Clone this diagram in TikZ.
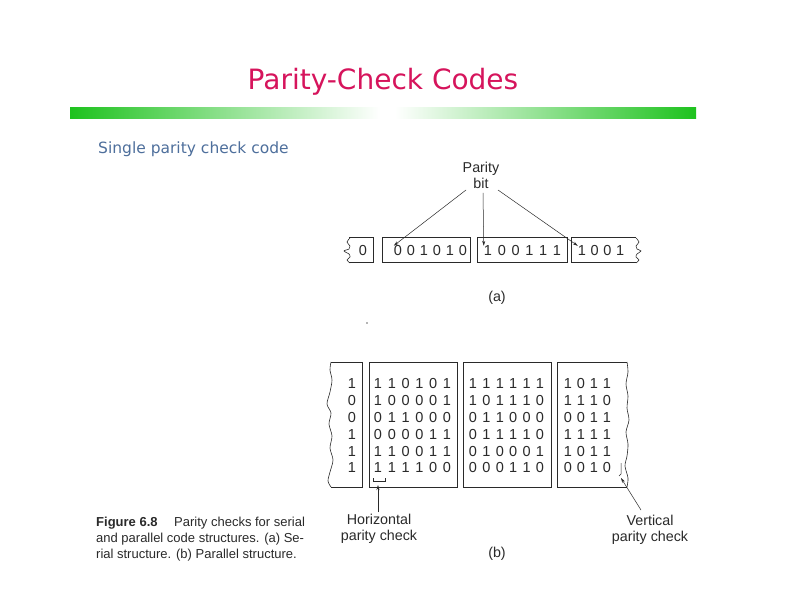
\documentclass[tikz,border=0pt]{standalone}
\usepackage{fontspec}
\setmainfont{Liberation Sans}
\newfontfamily\titlefont{DejaVu Sans}
\usetikzlibrary{arrows.meta}
\definecolor{titlecol}{HTML}{D6145C}
\definecolor{subcol}{HTML}{4E6F9C}
\definecolor{barcol}{HTML}{1EC21E}
\definecolor{ink}{HTML}{2A2A2A}
\begin{document}
\begin{tikzpicture}[x=1pt,y=-1pt,
  figline/.style={draw=ink, line width=1pt},
  boxnode/.style={draw=ink, line width=1pt, inner sep=0pt, fill=none},
  arr/.style={draw=ink, line width=0.5pt, -{Stealth[length=5pt,width=3pt]}},
  digit/.style={font=\fontsize{14.5}{14.5}\selectfont, text=ink, inner sep=0pt},
  lbl/.style={font=\fontsize{14.3}{16}\selectfont, text=ink, inner sep=0pt, align=center},
]
\useasboundingbox (0,0) rectangle (792,612);
\fill[white] (0,0) rectangle (792,612);

% title and bar
\node[font=\titlefont\fontsize{28}{32}\selectfont, text=titlecol] (title) at (383,82) {Parity-Check Codes};
\shade[left color=barcol, right color=white] (70,108) rectangle (380,119);
\shade[left color=white, right color=barcol] (395,108) rectangle (696,119);
\node[font=\titlefont\fontsize{15.5}{18}\selectfont, text=subcol, anchor=west, inner sep=0pt] (sub) at (98,149) {Single parity check code};

% ---------- (a) serial structure ----------
\node[lbl] (pb) at (481,175) {Parity\\bit};
% left partial box
\draw[figline] (349,238) -- (373,238) -- (373,263) -- (349,263);
\draw[ink, line width=0.6pt] plot[smooth] coordinates {(350,238) (347,242) (350,246) (349,249) (344,251) (349,254) (350,257) (347,260) (350,263)};
\node[digit] (a0) at (363,251) {0};
% box 1
\node[boxnode, minimum width=88pt, minimum height=25pt] (A1) at (426,250.5) {};
\foreach \d [count=\c from 0] in {0,0,1,0,1,0}
  \node[digit] (a1-\c) at ({398+13*\c},251) {\d};
% box 2
\node[boxnode, minimum width=90pt, minimum height=25pt] (A2) at (522,250.5) {};
\foreach \d [count=\c from 0] in {1,0,0,1,1,1}
  \node[digit] (a2-\c) at ({488+13.8*\c},251) {\d};
% right partial box
\draw[figline] (636,238) -- (571,238) -- (571,263) -- (636,263);
\draw[ink, line width=0.6pt] plot[smooth] coordinates {(636,238) (639,242) (636,246) (637,249) (641,251) (637,254) (636,257) (639,260) (636,263)};
\foreach \d [count=\c from 0] in {1,0,0,1}
  \node[digit] (a3-\c) at ({582+12.7*\c},251) {\d};
% arrows from label
\coordinate (pbl) at (466,190);
\coordinate (pbm) at (483,193);
\coordinate (pbr) at (498,190);
\draw[arr] (pbl) -- (a1-0.north west);
\draw[arr] (pbm) -- (a2-0.north west);
\draw[arr] (pbr) -- (a3-0.north west);
\node[lbl] (la) at (497,298) {(a)};
\fill[ink!70] (367,323) circle (0.8);

% ---------- (b) parallel structure ----------
% left partial box
\draw[figline] (331,362) -- (362,362) -- (362,487) -- (331,487);
\draw[ink, line width=0.6pt] plot[smooth] coordinates {(331,362) (330,370) (332,380) (330,392) (327,404) (331,413) (329,424) (332,436) (330,448) (333,460) (330,472) (328,481) (331,487)};
\foreach \d [count=\r from 0] in {1,0,0,1,1,1}
  \node[digit] (b0-\r) at (352,{384+16.8*\r}) {\d};
% box 1
\node[boxnode, minimum width=88pt, minimum height=125pt] (B1) at (413,424.5) {};
\foreach \a/\b/\c/\d/\e/\f [count=\r from 0] in {1/1/0/1/0/1,1/0/0/0/0/1,0/1/1/0/0/0,0/0/0/0/1/1,1/1/0/0/1/1,1/1/1/1/0/0}{
  \foreach \v [count=\k from 0] in {\a,\b,\c,\d,\e,\f}
    \node[digit] (b1-\r-\k) at ({378+13.8*\k},{384+16.8*\r}) {\v};
}
% box 2
\node[boxnode, minimum width=88pt, minimum height=125pt] (B2) at (507,424.5) {};
\foreach \a/\b/\c/\d/\e/\f [count=\r from 0] in {1/1/1/1/1/1,1/0/1/1/1/0,0/1/1/0/0/0,0/1/1/1/1/0,0/1/0/0/0/1,0/0/0/1/1/0}{
  \foreach \v [count=\k from 0] in {\a,\b,\c,\d,\e,\f}
    \node[digit] (b2-\r-\k) at ({473+13.4*\k},{384+16.8*\r}) {\v};
}
% right partial box
\draw[figline] (627,362) -- (557,362) -- (557,487) -- (627,487);
\draw[ink, line width=0.6pt] plot[smooth] coordinates {(627,362) (628,372) (626,384) (628,396) (627,408) (629,420) (626,432) (628,444) (627,456) (625,466) (628,478) (627,487)};
\foreach \a/\b/\c/\d [count=\r from 0] in {1/0/1/1,1/1/1/0,0/0/1/1,1/1/1/1,1/0/1/1,0/0/1/0}{
  \foreach \v [count=\k from 0] in {\a,\b,\c,\d}
    \node[digit] (b3-\r-\k) at ({568+13*\k},{384+16.8*\r}) {\v};
}
% horizontal parity bracket
\draw[ink, line width=0.5pt] (373,478) -- (373,481) -- (385,481) -- (385,478);
\coordinate (hb) at (378,485);
\node[lbl] (hl) at (379,529) {Horizontal\\parity check};
\draw[arr] (hl.north -| hb) ++(0,-2) -- (hb);
% vertical parity bracket
\draw[ink, line width=0.5pt] (621,463) -- (621,474) -- (619,476);
\coordinate (vb) at (621,478);
\node[lbl] (vl) at (650,530) {Vertical\\parity check};
\coordinate (vs) at (641,510);
\draw[arr] (vs) -- (vb);
\node[lbl] (lb) at (497,554) {(b)};

% caption
\node[anchor=north west, align=left, inner sep=0pt, text=ink, font=\fontsize{13}{16}\selectfont] (cap) at (96,516.5)
  {\textbf{Figure 6.8}\quad\ Parity checks for serial\\and parallel code structures. (a) Se-\\rial structure. (b) Parallel structure.};
\end{tikzpicture}
\end{document}
